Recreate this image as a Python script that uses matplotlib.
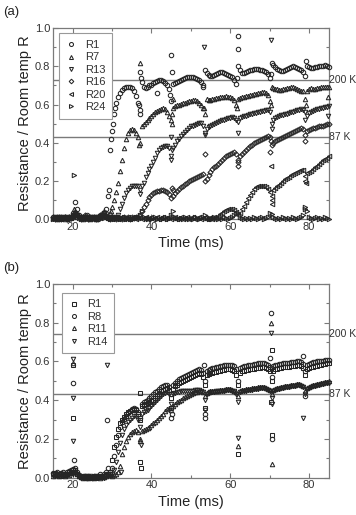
import numpy as np
import matplotlib
matplotlib.use("Agg")
import matplotlib.pyplot as plt
from matplotlib.ticker import MultipleLocator

plt.rcParams['font.family'] = ['Liberation Sans', 'DejaVu Sans']

# sampling time base (ms), 0.5 ms steps from 15 to 85
time_ms = np.linspace(15, 85, 141)

# ---------------- panel (a) ----------------
a_labels = ["R1", "R7", "R13", "R16", "R20", "R24"]
a_markers = ["o", "^", "v", "D", "<", ">"]

a_R1 = [0.01, 0.005, 0.01, 0.0, 0.01, 0.005, 0.01, 0.0, 0.01, 0.005,
        0.03, 0.09, 0.05, 0.02, 0.01, 0.005, 0.01, 0.02, 0.01, 0.005,
        0.01, 0.005, 0.01, 0.0, 0.01, 0.02, 0.03, 0.05, 0.12, 0.36,
        0.46, 0.55, 0.61, 0.64, 0.66, 0.675, 0.685, 0.69, 0.69, 0.69,
        0.685, 0.67, 0.645, 0.61, 0.57, 0.72, 0.69, 0.685, 0.69, 0.70,
        0.705, 0.715, 0.72, 0.725, 0.73, 0.73, 0.725, 0.715, 0.70, 0.68,
        0.62, 0.71, 0.715, 0.72, 0.725, 0.73, 0.735, 0.74, 0.745, 0.745,
        0.745, 0.745, 0.74, 0.735, 0.73, 0.72, 0.69, 0.78, 0.765, 0.755,
        0.75, 0.75, 0.755, 0.76, 0.765, 0.77, 0.77, 0.765, 0.76, 0.755,
        0.75, 0.745, 0.73, 0.71, 0.80, 0.78, 0.765, 0.765, 0.77, 0.775,
        0.78, 0.78, 0.785, 0.785, 0.785, 0.78, 0.78, 0.775, 0.77, 0.76,
        0.74, 0.82, 0.81, 0.795, 0.785, 0.78, 0.775, 0.775, 0.78, 0.785,
        0.79, 0.795, 0.80, 0.795, 0.79, 0.785, 0.78, 0.77, 0.75, 0.80,
        0.795, 0.79, 0.79, 0.795, 0.795, 0.80, 0.80, 0.80, 0.805, 0.80,
        0.795]
a_R7 = [0.005, 0.01, 0.0, 0.01, 0.005, 0.01, 0.0, 0.01, 0.005, 0.01,
        0.02, 0.04, 0.03, 0.015, 0.01, 0.0, 0.01, 0.005, 0.01, 0.0,
        0.01, 0.005, 0.0, 0.01, 0.02, 0.03, 0.04, 0.02, 0.01, 0.03,
        0.06, 0.10, 0.14, 0.19, 0.25, 0.31, 0.37, 0.42, 0.45, 0.465,
        0.47, 0.465, 0.45, 0.43, 0.40, 0.49, 0.50, 0.51, 0.52, 0.53,
        0.54, 0.55, 0.56, 0.565, 0.57, 0.575, 0.58, 0.575, 0.56, 0.54,
        0.52, 0.58, 0.59, 0.595, 0.60, 0.605, 0.61, 0.61, 0.615, 0.62,
        0.62, 0.625, 0.625, 0.62, 0.61, 0.60, 0.58, 0.55, 0.63, 0.625,
        0.625, 0.63, 0.63, 0.635, 0.635, 0.64, 0.64, 0.64, 0.645, 0.64,
        0.64, 0.635, 0.625, 0.60, 0.63, 0.635, 0.64, 0.64, 0.645, 0.645,
        0.65, 0.65, 0.655, 0.655, 0.66, 0.66, 0.665, 0.665, 0.66, 0.65,
        0.62, 0.69, 0.685, 0.68, 0.68, 0.675, 0.675, 0.68, 0.68, 0.685,
        0.685, 0.69, 0.69, 0.685, 0.68, 0.675, 0.67, 0.67, 0.63, 0.67,
        0.68, 0.685, 0.68, 0.68, 0.685, 0.685, 0.69, 0.69, 0.69, 0.69,
        0.69]
a_R13 = [0.0, 0.01, 0.005, 0.01, 0.0, 0.01, 0.005, 0.01, 0.0, 0.01,
         0.02, 0.03, 0.02, 0.01, 0.005, 0.01, 0.0, 0.01, 0.005, 0.0,
         0.01, 0.0, 0.01, 0.005, 0.015, 0.02, 0.03, 0.01, 0.005, 0.01,
         0.005, 0.01, 0.005, 0.02, 0.05, 0.08, 0.11, 0.135, 0.15, 0.16,
         0.17, 0.175, 0.175, 0.17, 0.15, 0.17, 0.19, 0.22, 0.24, 0.26,
         0.28, 0.30, 0.32, 0.345, 0.36, 0.37, 0.375, 0.38, 0.38, 0.37,
         0.33, 0.37, 0.39, 0.41, 0.42, 0.435, 0.445, 0.455, 0.465, 0.475,
         0.485, 0.49, 0.495, 0.50, 0.505, 0.505, 0.49, 0.45, 0.47, 0.48,
         0.49, 0.495, 0.50, 0.505, 0.51, 0.515, 0.52, 0.52, 0.525, 0.53,
         0.53, 0.535, 0.53, 0.52, 0.51, 0.53, 0.535, 0.54, 0.54, 0.545,
         0.55, 0.55, 0.555, 0.555, 0.56, 0.56, 0.565, 0.565, 0.57, 0.57,
         0.56, 0.50, 0.52, 0.53, 0.535, 0.54, 0.545, 0.545, 0.55, 0.55,
         0.555, 0.56, 0.56, 0.565, 0.57, 0.57, 0.575, 0.57, 0.56, 0.54,
         0.555, 0.56, 0.565, 0.57, 0.575, 0.575, 0.58, 0.58, 0.585, 0.585,
         0.59]
a_R16 = [0.01, 0.0, 0.005, 0.01, 0.0, 0.005, 0.01, 0.0, 0.01, 0.005,
         0.02, 0.025, 0.02, 0.01, 0.0, 0.01, 0.02, 0.01, 0.0, 0.01,
         0.005, 0.01, 0.0, 0.01, 0.02, 0.01, 0.02, 0.03, 0.01, 0.0,
         0.01, 0.005, 0.0, 0.01, 0.005, 0.0, 0.01, 0.005, 0.01, 0.0,
         0.01, 0.005, 0.01, 0.01, 0.02, 0.04, 0.06, 0.08, 0.10, 0.115,
         0.125, 0.135, 0.14, 0.145, 0.145, 0.15, 0.15, 0.145, 0.14, 0.13,
         0.11, 0.12, 0.135, 0.145, 0.155, 0.165, 0.175, 0.185, 0.19, 0.20,
         0.205, 0.21, 0.215, 0.22, 0.225, 0.23, 0.235, 0.20, 0.21, 0.23,
         0.245, 0.26, 0.27, 0.28, 0.29, 0.30, 0.31, 0.32, 0.33, 0.335,
         0.34, 0.345, 0.35, 0.34, 0.30, 0.33, 0.34, 0.35, 0.36, 0.37,
         0.38, 0.39, 0.40, 0.405, 0.41, 0.415, 0.42, 0.425, 0.43, 0.435,
         0.43, 0.39, 0.40, 0.41, 0.415, 0.42, 0.425, 0.43, 0.435, 0.44,
         0.445, 0.45, 0.455, 0.46, 0.465, 0.47, 0.475, 0.47, 0.44, 0.46,
         0.465, 0.47, 0.475, 0.475, 0.48, 0.485, 0.49, 0.49, 0.495, 0.50,
         0.50]
a_R20 = [0.005, 0.0, 0.01, 0.005, 0.0, 0.01, 0.005, 0.0, 0.01, 0.005,
         0.01, 0.02, 0.015, 0.005, 0.0, 0.01, 0.005, 0.0, 0.01, 0.0,
         0.005, 0.0, 0.01, 0.005, 0.01, 0.02, 0.01, 0.005, 0.0, 0.01,
         0.0, 0.005, 0.01, 0.0, 0.005, 0.01, 0.0, 0.005, 0.01, 0.0,
         0.005, 0.01, 0.0, 0.005, 0.01, 0.0, 0.005, 0.01, 0.0, 0.005,
         0.01, 0.0, 0.005, 0.01, 0.0, 0.005, 0.01, 0.0, 0.005, 0.01,
         0.0, 0.005, 0.01, 0.0, 0.005, 0.01, 0.0, 0.005, 0.01, 0.0,
         0.005, 0.01, 0.0, 0.005, 0.01, 0.0, 0.005, 0.01, 0.0, 0.005,
         0.005, 0.0, 0.01, 0.005, 0.015, 0.025, 0.03, 0.04, 0.045, 0.05,
         0.05, 0.05, 0.045, 0.035, 0.02, 0.03, 0.05, 0.07, 0.09, 0.11,
         0.125, 0.14, 0.155, 0.165, 0.17, 0.175, 0.175, 0.17, 0.165, 0.155,
         0.14, 0.12, 0.15, 0.16, 0.17, 0.18, 0.19, 0.20, 0.21, 0.215,
         0.22, 0.23, 0.235, 0.24, 0.245, 0.25, 0.255, 0.255, 0.225, 0.24,
         0.245, 0.25, 0.26, 0.27, 0.28, 0.29, 0.30, 0.31, 0.315, 0.32,
         0.33]
a_R24 = [0.0, 0.005, 0.01, 0.0, 0.005, 0.0, 0.01, 0.005, 0.0, 0.005,
         0.01, 0.015, 0.01, 0.005, 0.0, 0.005, 0.01, 0.0, 0.005, 0.0,
         0.005, 0.01, 0.0, 0.005, 0.0, 0.01, 0.005, 0.02, 0.005, 0.0,
         0.005, 0.0, 0.01, 0.005, 0.0, 0.005, 0.01, 0.0, 0.005, 0.0,
         0.0, 0.005, 0.01, 0.005, 0.02, 0.04, 0.01, 0.005, 0.0, 0.005,
         0.0, 0.005, 0.01, 0.0, 0.005, 0.0, 0.005, 0.01, 0.0, 0.005,
         0.02, 0.04, 0.01, 0.005, 0.0, 0.005, 0.0, 0.01, 0.005, 0.0,
         0.005, 0.0, 0.01, 0.005, 0.0, 0.005, 0.01, 0.02, 0.005, 0.0,
         0.005, 0.0, 0.01, 0.005, 0.0, 0.005, 0.0, 0.01, 0.005, 0.0,
         0.005, 0.01, 0.02, 0.03, 0.03, 0.01, 0.005, 0.0, 0.005, 0.0,
         0.005, 0.0, 0.01, 0.005, 0.0, 0.005, 0.01, 0.0, 0.005, 0.01,
         0.03, 0.025, 0.01, 0.005, 0.0, 0.005, 0.0, 0.01, 0.005, 0.0,
         0.005, 0.0, 0.01, 0.005, 0.0, 0.005, 0.01, 0.02, 0.05, 0.04,
         0.01, 0.005, 0.0, 0.005, 0.01, 0.0, 0.005, 0.0, 0.01, 0.005,
         0.0]

# scattered points around the heating pulses (time, value)
a_R1_xt = [29.2, 29.7, 30.2, 30.7, 36.8, 37.0, 37.2, 37.3, 41.5, 44.8, 45.0, 45.2,
           53.2, 61.8, 62.0, 62.1, 70.3, 79.3]
a_R1_xv = [0.15, 0.42, 0.50, 0.58, 0.60, 0.55, 0.77, 0.74, 0.66, 0.65, 0.86, 0.77,
           0.70, 0.74, 0.96, 0.89, 0.76, 0.83]
a_R7_xt = [20.3, 29.8, 36.8, 37.2, 45.1, 45.3, 45.5, 53.3, 61.7, 70.3, 79.2, 84.8]
a_R7_xv = [0.05, 0.04, 0.39, 0.82, 0.50, 0.55, 0.63, 0.58, 0.58, 0.60, 0.60, 0.64]
a_R13_xt = [37.1, 44.9, 44.9, 45.2, 53.4, 53.6, 62.1, 70.3, 70.6, 79.1, 84.8]
a_R13_xv = [0.13, 0.43, 0.31, 0.36, 0.90, 0.44, 0.45, 0.94, 0.47, 0.52, 0.54]
a_R16_xt = [45.3, 45.5, 53.6, 61.9, 62.1, 70.2, 70.4, 78.9]
a_R16_xv = [0.16, 0.15, 0.34, 0.28, 0.31, 0.35, 0.41, 0.41]
a_R20_xt = [70.3, 70.5, 70.6, 79.0, 79.2]
a_R20_xv = [0.28, 0.08, 0.10, 0.20, 0.19]
a_R24_xt = [20.3, 79.1]
a_R24_xv = [0.23, 0.06]

a_lines = [0.73, 0.43]

# ---------------- panel (b) ----------------
b_labels = ["R1", "R8", "R11", "R14"]
b_markers = ["s", "o", "^", "v"]

b_R1 = [0.02, 0.025, 0.015, 0.02, 0.01, 0.02, 0.015, 0.02, 0.03, 0.025,
        0.03, 0.04, 0.02, 0.01, 0.005, 0.01, 0.0, 0.005, 0.01, 0.0,
        0.005, 0.01, 0.0, 0.005, 0.01, 0.005, 0.01, 0.015, 0.02, 0.03,
        0.09, 0.16, 0.21, 0.25, 0.28, 0.30, 0.315, 0.33, 0.34, 0.345,
        0.35, 0.355, 0.35, 0.33, 0.30, 0.37, 0.375, 0.38, 0.385, 0.39,
        0.395, 0.40, 0.41, 0.42, 0.43, 0.445, 0.455, 0.46, 0.465, 0.455,
        0.41, 0.46, 0.475, 0.48, 0.49, 0.495, 0.50, 0.505, 0.51, 0.515,
        0.52, 0.525, 0.53, 0.535, 0.54, 0.535, 0.52, 0.48, 0.53, 0.535,
        0.54, 0.54, 0.545, 0.545, 0.55, 0.55, 0.555, 0.555, 0.56, 0.56,
        0.56, 0.555, 0.55, 0.53, 0.48, 0.54, 0.55, 0.55, 0.555, 0.555,
        0.56, 0.56, 0.56, 0.565, 0.565, 0.565, 0.57, 0.57, 0.565, 0.56,
        0.55, 0.50, 0.55, 0.56, 0.56, 0.565, 0.565, 0.57, 0.57, 0.57,
        0.57, 0.575, 0.575, 0.575, 0.58, 0.58, 0.575, 0.565, 0.53, 0.56,
        0.565, 0.57, 0.57, 0.575, 0.575, 0.58, 0.58, 0.585, 0.585, 0.59,
        0.59]
b_R8 = [0.025, 0.02, 0.03, 0.02, 0.025, 0.03, 0.02, 0.03, 0.035, 0.04,
        0.045, 0.05, 0.03, 0.015, 0.01, 0.005, 0.01, 0.0, 0.01, 0.005,
        0.0, 0.01, 0.005, 0.01, 0.02, 0.01, 0.02, 0.03, 0.05, 0.02,
        0.05, 0.11, 0.17, 0.22, 0.26, 0.285, 0.305, 0.32, 0.335, 0.345,
        0.355, 0.36, 0.355, 0.34, 0.31, 0.38, 0.39, 0.395, 0.40, 0.41,
        0.42, 0.43, 0.44, 0.45, 0.46, 0.47, 0.475, 0.48, 0.48, 0.47,
        0.43, 0.48, 0.49, 0.50, 0.51, 0.515, 0.52, 0.525, 0.53, 0.535,
        0.54, 0.545, 0.55, 0.555, 0.56, 0.555, 0.54, 0.50, 0.55, 0.555,
        0.56, 0.565, 0.565, 0.57, 0.57, 0.575, 0.575, 0.58, 0.58, 0.58,
        0.58, 0.58, 0.575, 0.56, 0.50, 0.565, 0.57, 0.575, 0.575, 0.58,
        0.58, 0.58, 0.585, 0.585, 0.59, 0.59, 0.59, 0.59, 0.585, 0.58,
        0.57, 0.52, 0.575, 0.58, 0.58, 0.585, 0.585, 0.59, 0.59, 0.59,
        0.59, 0.595, 0.595, 0.595, 0.60, 0.60, 0.595, 0.585, 0.55, 0.58,
        0.585, 0.59, 0.595, 0.595, 0.60, 0.60, 0.605, 0.605, 0.61, 0.61,
        0.61]
b_R11 = [0.01, 0.015, 0.02, 0.01, 0.015, 0.02, 0.01, 0.02, 0.015, 0.025,
         0.03, 0.035, 0.02, 0.01, 0.005, 0.0, 0.01, 0.005, 0.0, 0.01,
         0.005, 0.0, 0.01, 0.005, 0.0, 0.01, 0.005, 0.01, 0.02, 0.015,
         0.01, 0.015, 0.02, 0.03, 0.06, 0.12, 0.16, 0.19, 0.21, 0.225,
         0.235, 0.24, 0.245, 0.235, 0.19, 0.24, 0.245, 0.25, 0.255, 0.26,
         0.27, 0.28, 0.29, 0.30, 0.31, 0.32, 0.33, 0.345, 0.355, 0.36,
         0.35, 0.37, 0.38, 0.39, 0.395, 0.40, 0.41, 0.415, 0.42, 0.425,
         0.43, 0.435, 0.44, 0.44, 0.445, 0.445, 0.44, 0.42, 0.435, 0.44,
         0.445, 0.445, 0.45, 0.45, 0.45, 0.455, 0.455, 0.455, 0.46, 0.46,
         0.46, 0.455, 0.45, 0.44, 0.42, 0.45, 0.455, 0.455, 0.46, 0.46,
         0.46, 0.465, 0.465, 0.465, 0.47, 0.47, 0.47, 0.47, 0.465, 0.46,
         0.455, 0.43, 0.455, 0.46, 0.465, 0.465, 0.47, 0.47, 0.475, 0.475,
         0.475, 0.48, 0.48, 0.48, 0.485, 0.485, 0.48, 0.475, 0.45, 0.465,
         0.47, 0.475, 0.48, 0.48, 0.485, 0.485, 0.49, 0.49, 0.495, 0.495,
         0.50]
b_R14 = [0.015, 0.02, 0.01, 0.02, 0.015, 0.01, 0.02, 0.015, 0.02, 0.03,
         0.02, 0.03, 0.02, 0.01, 0.0, 0.005, 0.01, 0.0, 0.005, 0.01,
         0.0, 0.005, 0.01, 0.0, 0.005, 0.01, 0.0, 0.01, 0.02, 0.01,
         0.02, 0.04, 0.08, 0.13, 0.18, 0.22, 0.25, 0.27, 0.29, 0.30,
         0.31, 0.32, 0.32, 0.30, 0.26, 0.33, 0.34, 0.345, 0.35, 0.36,
         0.37, 0.38, 0.39, 0.40, 0.41, 0.42, 0.43, 0.435, 0.44, 0.43,
         0.38, 0.43, 0.435, 0.44, 0.44, 0.445, 0.445, 0.45, 0.45, 0.45,
         0.45, 0.45, 0.455, 0.455, 0.455, 0.45, 0.44, 0.40, 0.43, 0.435,
         0.44, 0.44, 0.44, 0.445, 0.445, 0.45, 0.45, 0.45, 0.455, 0.455,
         0.455, 0.45, 0.445, 0.43, 0.39, 0.44, 0.445, 0.45, 0.45, 0.455,
         0.455, 0.455, 0.46, 0.46, 0.46, 0.465, 0.465, 0.465, 0.46, 0.455,
         0.45, 0.41, 0.45, 0.455, 0.46, 0.46, 0.465, 0.465, 0.47, 0.47,
         0.47, 0.475, 0.475, 0.475, 0.48, 0.48, 0.475, 0.47, 0.43, 0.46,
         0.465, 0.47, 0.475, 0.475, 0.48, 0.48, 0.485, 0.485, 0.49, 0.49,
         0.49]

b_R1_xt = [20.1, 20.1, 37.2, 37.2, 37.3, 45.0, 53.5, 62.0, 70.5, 70.4, 70.5]
b_R1_xv = [0.58, 0.31, 0.435, 0.08, 0.05, 0.36, 0.36, 0.12, 0.66, 0.39, 0.22]
b_R8_xt = [20.1, 20.2, 28.6, 45.0, 45.2, 53.4, 53.5, 53.6, 70.0, 70.3, 70.5, 78.4, 79.0]
b_R8_xv = [0.49, 0.09, 0.30, 0.31, 0.33, 0.58, 0.33, 0.31, 0.62, 0.85, 0.20, 0.63, 0.42]
b_R11_xt = [20.1, 37.1, 62.0, 70.4, 70.5]
b_R11_xv = [0.59, 0.20, 0.165, 0.80, 0.07]
b_R14_xt = [20.1, 20.1, 20.1, 28.6, 32.2, 37.3, 53.5, 62.0, 70.4, 70.5, 78.6]
b_R14_xv = [0.615, 0.41, 0.19, 0.58, 0.03, 0.17, 0.35, 0.205, 0.745, 0.38, 0.31]

b_lines = [0.74, 0.43]

line_labels = ["200 K", "87 K"]

EDGE = "#262626"
GREY = "#7a7a7a"


def draw_panel(ax, values, extras, labels, markers, levels, tag, legend_anchor):
    handles = []
    for vals, (xt, xv), lab, mk in zip(values, extras, labels, markers):
        x = np.concatenate([time_ms, xt])
        y = np.concatenate([vals, xv])
        ms = 2.6 if mk == "D" else 3.2
        h, = ax.plot(x, y, linestyle="none", marker=mk, ms=ms, mfc="none",
                     mec=EDGE, mew=0.75, clip_on=False, label=lab, zorder=3)
        handles.append(h)

    for lev, txt in zip(levels, line_labels):
        ax.axhline(lev, color=GREY, lw=1.0, zorder=2)
        ax.text(1.0, lev, txt, transform=ax.get_yaxis_transform(), ha="left",
                va="center", fontsize=7.5, color="#333333")

    ax.set_xlim(15, 85)
    ax.set_ylim(0, 1.0)
    ax.xaxis.set_major_locator(MultipleLocator(20))
    ax.xaxis.set_minor_locator(MultipleLocator(10))
    ax.yaxis.set_major_locator(MultipleLocator(0.2))
    ax.yaxis.set_minor_locator(MultipleLocator(0.1))
    ax.yaxis.set_major_formatter(plt.FormatStrFormatter("%.1f"))
    ax.tick_params(which="both", direction="in", top=True, right=True,
                   color=GREY, width=0.8, labelsize=8, labelcolor="#333333", pad=2)
    ax.tick_params(which="major", length=3.5)
    ax.tick_params(which="minor", length=2)
    for sp in ax.spines.values():
        sp.set_color(GREY)
        sp.set_linewidth(0.9)

    ax.set_xlabel("Time (ms)", fontsize=10.5, color="#222222", labelpad=3)
    ax.set_ylabel("Resistance / Room temp R", fontsize=10.5, color="#222222", labelpad=2)

    leg = ax.legend(handles=handles, loc="upper left", bbox_to_anchor=legend_anchor,
                    borderaxespad=0, fontsize=8, frameon=True, fancybox=False,
                    edgecolor="#999999", framealpha=1, numpoints=1,
                    handlelength=1.0, handletextpad=0.7, labelspacing=0.22,
                    borderpad=0.6, markerscale=0.9)
    leg.get_frame().set_linewidth(0.8)
    for t in leg.get_texts():
        t.set_color("#333333")

    ax.figure.text(0.008, ax.get_position().y1 + 0.032, tag, fontsize=9.5,
                   color="#222222", ha="left", va="center")


fig = plt.figure(figsize=(3.56, 5.15), dpi=100)
ax_a = fig.add_axes([0.149, 0.575, 0.774, 0.370])
ax_b = fig.add_axes([0.149, 0.0725, 0.774, 0.376])

draw_panel(ax_a,
           [a_R1, a_R7, a_R13, a_R16, a_R20, a_R24],
           [(a_R1_xt, a_R1_xv), (a_R7_xt, a_R7_xv), (a_R13_xt, a_R13_xv),
            (a_R16_xt, a_R16_xv), (a_R20_xt, a_R20_xv), (a_R24_xt, a_R24_xv)],
           a_labels, a_markers, a_lines, "(a)", (0.022, 0.974))

draw_panel(ax_b,
           [b_R1, b_R8, b_R11, b_R14],
           [(b_R1_xt, b_R1_xv), (b_R8_xt, b_R8_xv), (b_R11_xt, b_R11_xv),
            (b_R14_xt, b_R14_xv)],
           b_labels, b_markers, b_lines, "(b)", (0.032, 0.955))

fig.savefig("out.png", dpi=100)
plt.close(fig)
